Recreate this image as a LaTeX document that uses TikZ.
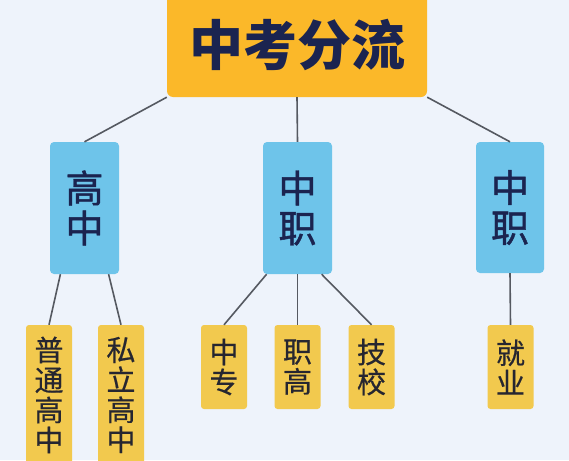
\documentclass[tikz,border=0pt]{standalone}
\usepackage{fontspec}
\newfontfamily\cjk{Noto Sans CJK SC}
\newfontfamily\cjkm[FakeBold=1.2]{Noto Sans CJK SC}
\newfontfamily\cjky[FakeBold=0.5]{Noto Sans CJK SC}
\definecolor{bgc}{HTML}{EEF3FB}
\definecolor{topc}{HTML}{FBB829}
\definecolor{bluec}{HTML}{6EC4EA}
\definecolor{yelc}{HTML}{F2C94E}
\definecolor{navy}{HTML}{1B2450}
\definecolor{darktxt}{HTML}{262630}
\definecolor{linec}{HTML}{555961}
\tikzset{
  topbox/.style={rectangle, rounded corners=6pt, fill=topc, minimum width=260pt, minimum height=104pt, inner sep=0pt,
    text=navy, font=\cjk\bfseries\fontsize{54}{54}\selectfont},
  bluebox/.style={rectangle, rounded corners=4pt, fill=bluec, minimum width=69pt, minimum height=132pt, inner sep=0pt,
    text=navy, align=center, font=\cjkm\fontsize{38}{40}\selectfont},
  yelbox/.style={rectangle, rounded corners=3pt, fill=yelc, minimum width=46pt, inner sep=0pt,
    text=darktxt, align=center, font=\cjky\fontsize{29}{30}\selectfont},
  conn/.style={draw=linec, line width=1.6pt}
}
\begin{document}
\begin{tikzpicture}[x=1pt,y=-1pt]
\clip (0,0) rectangle (569,460);
\fill[bgc] (0,0) rectangle (569,460);
\node[topbox] (top) at (297,45) {中考分流};
\node[bluebox] (gL) at (84.5,208) {高\\中};
\node[bluebox] (gM) at (297.5,208) {中\\职};
\node[bluebox, minimum width=68pt, minimum height=131pt] (gR) at (510,207.5) {中\\职};
\node[yelbox, minimum height=140pt] (y1) at (49,395) {普\\通\\高\\中};
\node[yelbox, minimum height=140pt] (y2) at (121,395) {私\\立\\高\\中};
\node[yelbox, minimum height=84pt] (y3) at (224,367) {中\\专};
\node[yelbox, minimum height=84pt] (y4) at (297.5,367) {职\\高};
\node[yelbox, minimum height=84pt] (y5) at (371.5,367) {技\\校};
\node[yelbox, minimum height=84pt] (y6) at (510.5,367) {就\\业};
\draw[conn] (top.south west) -- (gL.north);
\draw[conn] (top.south) -- (gM.north);
\draw[conn] (top.south east) -- (gR.north);
\draw[conn] (gL.250) -- (y1.north);
\draw[conn] (gL.290) -- (y2.north);
\draw[conn] (gM.245) -- (y3.north);
\draw[conn] (gM.south) -- (y4.north);
\draw[conn] (gM.290) -- (y5.north);
\draw[conn] (gR.south) -- (y6.north);
\end{tikzpicture}
\end{document}
